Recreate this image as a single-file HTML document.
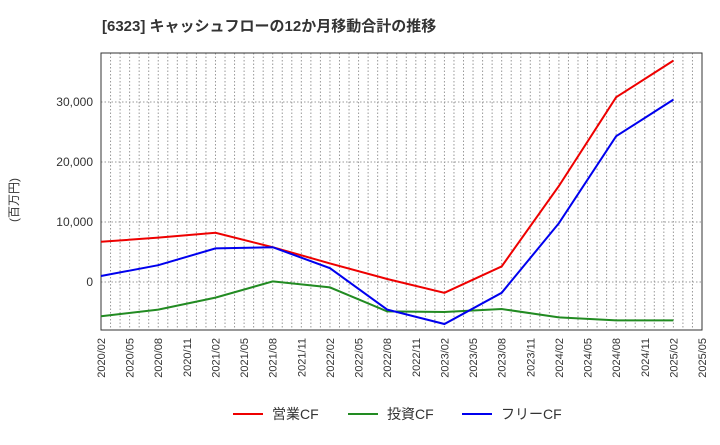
<!DOCTYPE html>
<html><head><meta charset="utf-8"><style>
body{margin:0;background:#fff;font-family:"Liberation Sans","Noto Sans CJK JP",sans-serif;}
</style></head><body>
<svg id="chart" width="720" height="440" xmlns="http://www.w3.org/2000/svg" font-family="Liberation Sans, Noto Sans CJK JP, sans-serif">
<text x="102" y="31" font-size="15" font-weight="bold" fill="#333">[6323]  キャッシュフローの12か月移動合計の推移</text>
<text transform="translate(18,200) rotate(-90)" font-size="12" fill="#333" text-anchor="middle">(百万円)</text>
<g id="grid"></g><g id="axes"></g><g id="series"></g>
<g font-size="14" fill="#333">
<line x1="233" y1="414" x2="263" y2="414" stroke="#e00" stroke-width="2"/><text x="272" y="419">営業CF</text>
<line x1="348" y1="414" x2="378" y2="414" stroke="#228b22" stroke-width="2"/><text x="387" y="419">投資CF</text>
<line x1="462" y1="414" x2="492" y2="414" stroke="#00e" stroke-width="2"/><text x="501" y="419">フリーCF</text>
</g>
</svg>
<script>
const months = [0,6,12,18,24,30,36,42,48,54,60]; // months since 2020/02
const operatingCF = [6700,7400,8200,5800,3100,500,-1800,2600,16000,30800,36900];
const investingCF = [-5700,-4600,-2600,100,-900,-4900,-5000,-4500,-5900,-6400,-6400];
const freeCF = [1000,2800,5600,5800,2300,-4600,-7000,-1800,9800,24300,30400];
const yTicks = [0,10000,20000,30000];
const xTickLabels = ["2020/02","2020/05","2020/08","2020/11","2021/02","2021/05","2021/08","2021/11","2022/02","2022/05","2022/08","2022/11","2023/02","2023/05","2023/08","2023/11","2024/02","2024/05","2024/08","2024/11","2025/02","2025/05"];
const L=101,R=702,T=53,B=330,NM=63;
const xs=m=>L+(R-L)*m/NM;
const ys=v=>282-v*0.006;
const NS="http://www.w3.org/2000/svg";
function mk(p,t,a){const e=document.createElementNS(NS,t);for(const k in a)e.setAttribute(k,a[k]);p.appendChild(e);return e;}
const grid=document.getElementById('grid'),axes=document.getElementById('axes'),ser=document.getElementById('series');
for(let m=1;m<NM;m++){const l=mk(grid,'line',{x1:xs(m),x2:xs(m),y1:T,y2:B,stroke:'#999','stroke-dasharray':'1.5,2','stroke-width':1});

}
yTicks.forEach(v=>{const y=ys(v);const l=mk(grid,'line',{x1:L,x2:R,y1:y,y2:y,stroke:'#999','stroke-dasharray':'1.5,2'});


const t=mk(axes,'text',{x:L-8,y:y+4,'font-size':12,fill:'#333','text-anchor':'end'});t.textContent=v.toLocaleString('en-US');

});
xTickLabels.forEach((s,i)=>{const x=xs(i*3);const t=mk(axes,'text',{transform:`translate(${x+4},338) rotate(-90)`,'font-size':11,fill:'#333','text-anchor':'end'});t.textContent=s;

});
const fr=mk(axes,'rect',{x:L,y:T,width:R-L,height:B-T,fill:'none',stroke:'#333','stroke-width':1});


[[operatingCF,'#e00','operating-cf-line'],[investingCF,'#228b22','investing-cf-line'],[freeCF,'#00e','free-cf-line']].forEach(([d,c,n])=>{
const p=mk(ser,'polyline',{points:d.map((v,i)=>xs(months[i])+','+ys(v)).join(' '),fill:'none',stroke:c,'stroke-width':2});

});
</script>
</body></html>
